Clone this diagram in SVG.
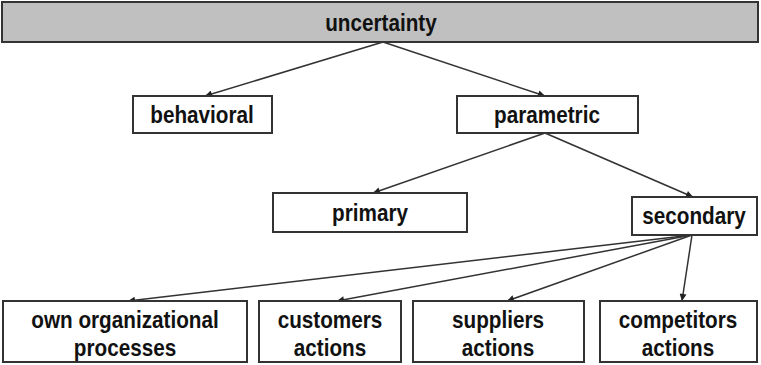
<svg xmlns="http://www.w3.org/2000/svg" width="761" height="365" viewBox="0 0 761 365">
<defs>
<marker id="ah" viewBox="0 0 10 10" refX="10" refY="5" markerWidth="9" markerHeight="7" markerUnits="userSpaceOnUse" orient="auto">
<path d="M0,0 L10,5 L0,10 z" fill="#222"/>
</marker>
<style>
.box{fill:#fff;stroke:#333;stroke-width:2}
.top{fill:#c0c0c0;stroke:#333;stroke-width:2}
.t{font-family:"Liberation Sans",Arial,sans-serif;font-weight:bold;font-size:23px;fill:#111;text-anchor:middle}
.c{stroke:#333;stroke-width:1.5;fill:none;marker-end:url(#ah)}
</style>
</defs>
<rect width="761" height="365" fill="#fff"/>
<g id="connectors">
<line class="c" x1="383" y1="42" x2="205" y2="96"/>
<line class="c" x1="383" y1="42" x2="545" y2="96"/>
<line class="c" x1="545" y1="133" x2="373" y2="193"/>
<line class="c" x1="545" y1="133" x2="693" y2="197"/>
<line class="c" x1="692" y1="235" x2="128" y2="301"/>
<line class="c" x1="692" y1="235" x2="337" y2="301"/>
<line class="c" x1="692" y1="235" x2="507" y2="301"/>
<line class="c" x1="692" y1="235" x2="682" y2="301"/>
</g>
<g id="uncertainty">
<rect class="top" x="2" y="2" width="756" height="40"/>
<text class="t" transform="translate(381,31) scale(0.9,1)">uncertainty</text>
</g>
<g id="behavioral">
<rect class="box" x="133" y="96" width="139" height="37"/>
<text class="t" transform="translate(202,123) scale(0.9,1)">behavioral</text>
</g>
<g id="parametric">
<rect class="box" x="457" y="96" width="181" height="37"/>
<text class="t" transform="translate(547,123) scale(0.9,1)">parametric</text>
</g>
<g id="primary">
<rect class="box" x="273" y="193" width="194" height="39"/>
<text class="t" transform="translate(370,221) scale(0.9,1)">primary</text>
</g>
<g id="secondary">
<rect class="box" x="632" y="197" width="125" height="38"/>
<text class="t" transform="translate(694,224) scale(0.9,1)">secondary</text>
</g>
<g id="own">
<rect class="box" x="3" y="301" width="244" height="61"/>
<text class="t" transform="translate(125,328) scale(0.9,1)">own organizational</text>
<text class="t" transform="translate(125,356) scale(0.9,1)">processes</text>
</g>
<g id="customers">
<rect class="box" x="259" y="301" width="142" height="61"/>
<text class="t" transform="translate(330,328) scale(0.9,1)">customers</text>
<text class="t" transform="translate(330,356) scale(0.9,1)">actions</text>
</g>
<g id="suppliers">
<rect class="box" x="413" y="301" width="171" height="61"/>
<text class="t" transform="translate(498,328) scale(0.9,1)">suppliers</text>
<text class="t" transform="translate(498,356) scale(0.9,1)">actions</text>
</g>
<g id="competitors">
<rect class="box" x="600" y="301" width="157" height="61"/>
<text class="t" transform="translate(678,328) scale(0.9,1)">competitors</text>
<text class="t" transform="translate(678,356) scale(0.9,1)">actions</text>
</g>
</svg>
